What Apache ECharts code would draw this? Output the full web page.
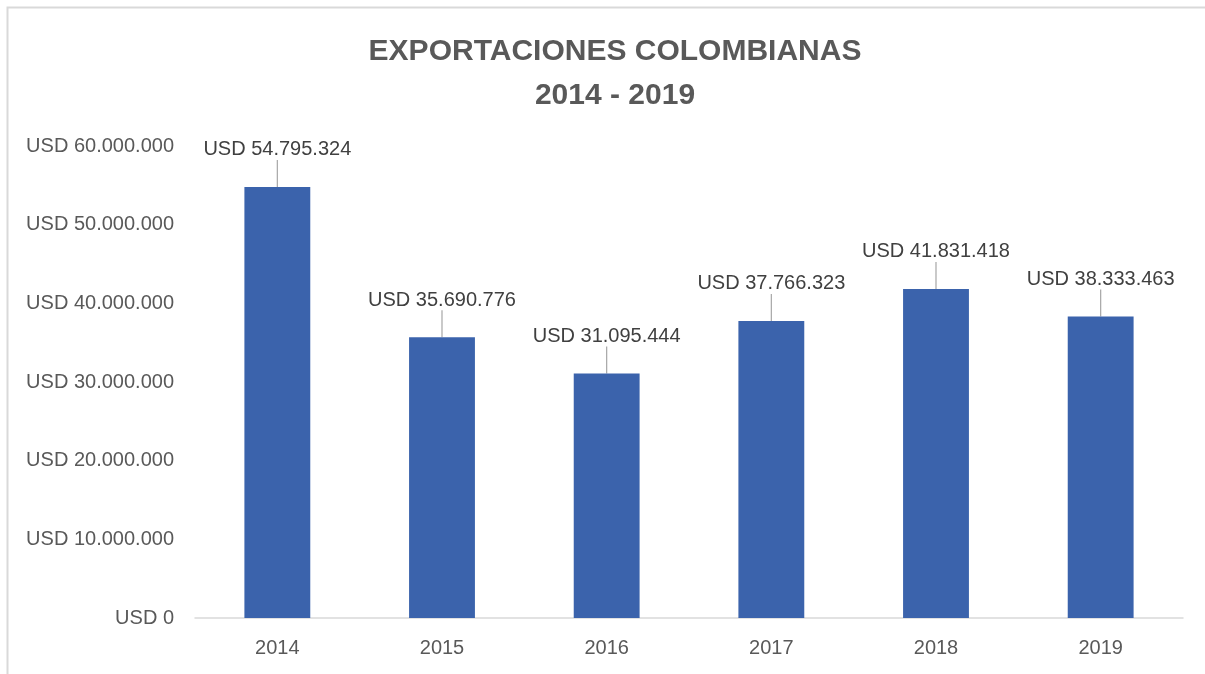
<!DOCTYPE html>
<html>
<head>
<meta charset="utf-8">
<script src="https://cdn.jsdelivr.net/npm/echarts@6/dist/echarts.min.js"></script>
<style>
html,body{margin:0;padding:0;background:#fff;}
#c{width:1205px;height:674px;}
</style>
</head>
<body>
<div id="c"></div>
<script>
var years = ['2014', '2015', '2016', '2017', '2018', '2019'];
var exportsUSD = [54795324, 35690776, 31095444, 37766323, 41831418, 38333463];
var titleText = 'EXPORTACIONES COLOMBIANAS\n2014 - 2019';

function fmt(v) {
  var s = Math.round(v).toString().replace(/\B(?=(\d{3})+(?!\d))/g, '.');
  return 'USD ' + s;
}

var chart = echarts.init(document.getElementById('c'));
chart.setOption({
  animation: false,
  backgroundColor: '#ffffff',
  textStyle: { fontFamily: 'Liberation Sans' },
  graphic: [{
    type: 'polyline',
    shape: { points: [[7.5, 674], [7.5, 7.5], [1205, 7.5]] },
    style: { stroke: '#d9d9d9', lineWidth: 2, fill: null },
    silent: true
  }],
  title: {
    text: titleText,
    left: 610,
    top: 25,
    textAlign: 'center',
    textStyle: {
      fontFamily: 'Liberation Sans',
      fontWeight: 'bold',
      fontSize: 30,
      lineHeight: 44,
      color: '#595959'
    }
  },
  grid: { left: 195, right: 22, top: 146, bottom: 56, containLabel: false },
  xAxis: {
    type: 'category',
    data: years,
    axisLine: { show: true, lineStyle: { color: '#d9d9d9', width: 1.5 } },
    axisTick: { show: false },
    axisLabel: { color: '#595959', fontSize: 20, margin: 20, fontFamily: 'Liberation Sans' }
  },
  yAxis: {
    type: 'value',
    min: 0,
    max: 60000000,
    interval: 10000000,
    axisLine: { show: false },
    axisTick: { show: false },
    splitLine: { show: false },
    axisLabel: {
      color: '#595959',
      fontSize: 20,
      margin: 21,
      fontFamily: 'Liberation Sans',
      formatter: function (v) { return fmt(v); }
    }
  },
  series: [{
    type: 'bar',
    data: exportsUSD,
    barWidth: '40%',
    itemStyle: { color: '#3b63ac' },
    label: {
      show: true,
      position: 'top',
      distance: 0,
      padding: [0, 0, 5, 0],
      color: '#404040',
      fontSize: 20,
      fontFamily: 'Liberation Sans',
      formatter: function (p) { return fmt(p.value); }
    },
    labelLayout: { dy: -22 },
    labelLine: { show: true, lineStyle: { color: '#a6a6a6', width: 1.2 } }
  }]
});
</script>
</body>
</html>
